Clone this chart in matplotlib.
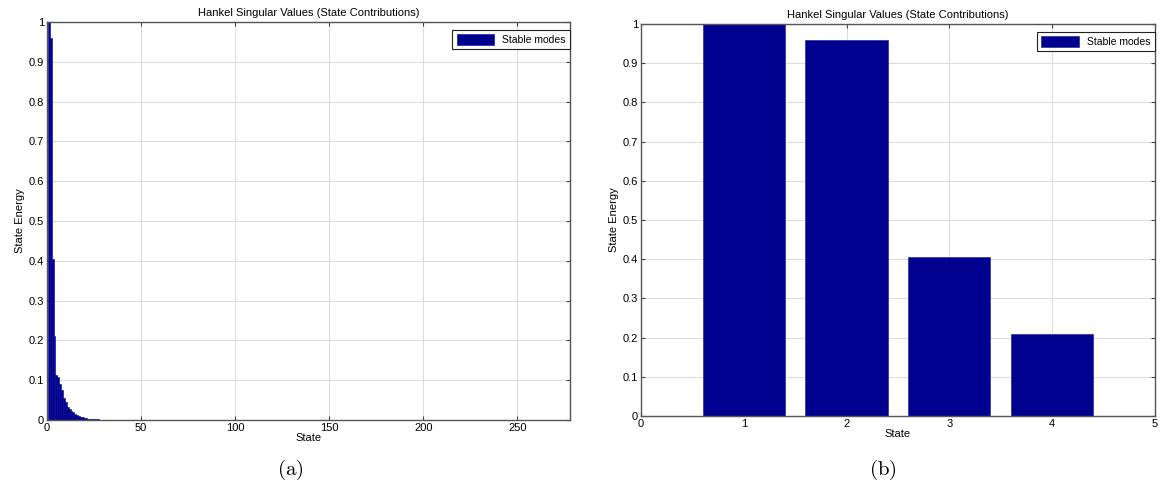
import numpy as np
import matplotlib.pyplot as plt

plt.rcParams['font.family'] = ['Liberation Sans', 'DejaVu Sans']
plt.rcParams['mathtext.fontset'] = 'cm'

# Hankel singular values, full model (first 40 states; the rest are ~0)
hsv_full = [1.0, 0.96, 0.405, 0.21, 0.112, 0.108, 0.09, 0.075, 0.055, 0.045,
            0.032, 0.027, 0.022, 0.019, 0.015, 0.012, 0.010, 0.008, 0.0065, 0.0055,
            0.0045, 0.0035, 0.003, 0.0025, 0.002, 0.0017, 0.0014, 0.0012, 0.001, 0.0008,
            0.0007, 0.0006, 0.0005, 0.0004, 0.0003, 0.0003, 0.0002, 0.0002, 0.0001, 0.0001]
n_states_full = 278

# Reduced model
hsv_red = [1.0, 0.96, 0.405, 0.21]

bar_color = '#00008f'
title = 'Hankel Singular Values (State Contributions)'

fig = plt.figure(figsize=(11.61, 4.95), dpi=100)
ax1 = fig.add_axes([0.0405, 0.1515, 0.4505, 0.8040])
ax2 = fig.add_axes([0.5521, 0.1596, 0.4427, 0.7920])

x1 = np.arange(1, len(hsv_full) + 1)
ax1.bar(x1, hsv_full, width=1.0, color=bar_color, edgecolor=bar_color,
        linewidth=0.4, label='Stable modes', zorder=2)
ax1.set_xlim(0, n_states_full)
ax1.set_xticks(np.arange(0, 251, 50))

x2 = np.arange(1, len(hsv_red) + 1)
ax2.bar(x2, hsv_red, width=0.8, color=bar_color, edgecolor='#3a3aa0',
        linewidth=0.6, label='Stable modes', zorder=2)
ax2.set_xlim(0, 5)
ax2.set_xticks(np.arange(0, 6))

yt = np.round(np.arange(0, 1.01, 0.1), 1)
ylabels = ['0'] + ['%.1f' % v for v in yt[1:-1]] + ['1']
for ax in (ax1, ax2):
    ax.set_ylim(0, 1)
    ax.set_yticks(yt)
    ax.set_yticklabels(ylabels)
    ax.grid(True, color='#dcdcdc', linewidth=0.8, zorder=0)
    ax.set_axisbelow(True)
    ax.tick_params(direction='in', length=3, width=0.8, labelsize=8,
                   top=True, right=True, pad=2, color='#444444')
    for s in ax.spines.values():
        s.set_color('#555555')
        s.set_linewidth(1.0)
    ax.set_title(title, fontsize=8, pad=4)
    ax.set_xlabel('State', fontsize=8, labelpad=0)
    ax.set_ylabel('State Energy', fontsize=8, labelpad=3)
    leg = ax.legend(loc='upper right', bbox_to_anchor=(1.0, 0.98), fontsize=7.5,
                    handlelength=3.6, handleheight=1.2, borderpad=0.4,
                    borderaxespad=0.0, fancybox=False, framealpha=1)
    leg.get_frame().set_edgecolor('#222222')
    leg.get_frame().set_linewidth(0.8)

fig.text(0.250, 0.050, r'$\mathrm{(a)}$', ha='center', va='center', fontsize=15)
fig.text(0.760, 0.050, r'$\mathrm{(b)}$', ha='center', va='center', fontsize=15)

fig.savefig('out.png', dpi=100)
